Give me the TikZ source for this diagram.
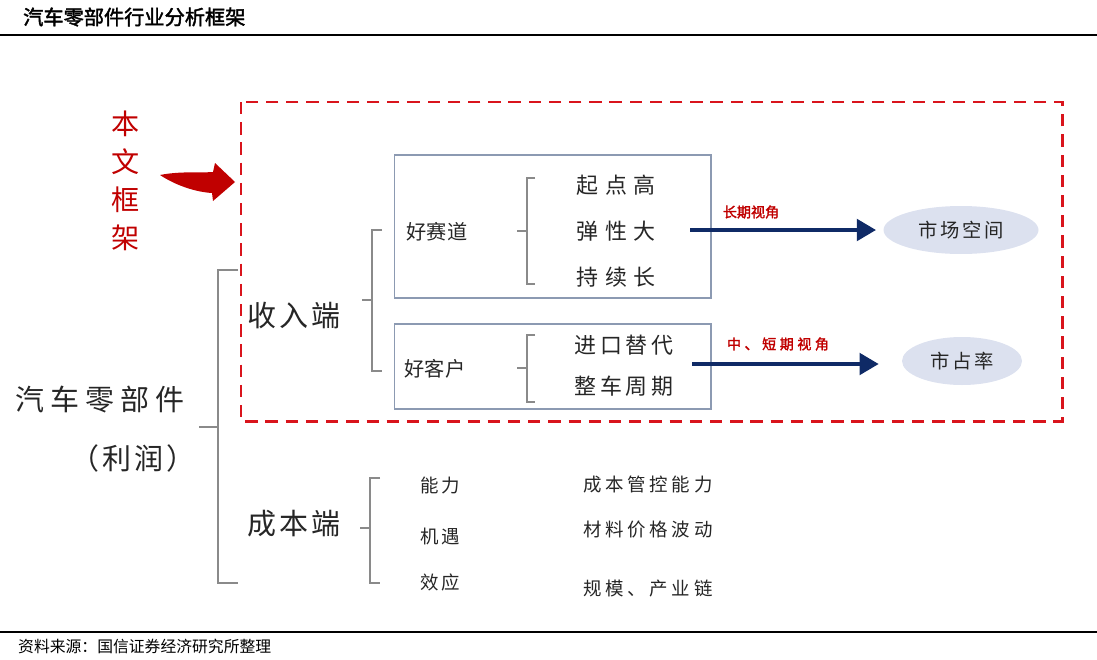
\documentclass[tikz,border=0pt]{standalone}
\usepackage{fontspec}
\setmainfont{Noto Sans CJK SC}[AutoFakeBold=2]
\usetikzlibrary{arrows.meta, positioning, shapes.geometric}
\definecolor{FrameRed}{HTML}{D9141C}
\definecolor{TagRed}{HTML}{C00000}
\definecolor{ArrowNavy}{HTML}{0F2A66}
\definecolor{EllFill}{HTML}{DCE1EF}
\definecolor{BoxLine}{HTML}{8C9AB2}
\definecolor{BrGray}{HTML}{8A8A8A}
\definecolor{InkGray}{HTML}{262626}

\tikzset{
  bigtext/.style={text=InkGray, font=\fontsize{16.5}{21.5}\selectfont\addfontfeature{LetterSpace=#1}},
  itemtext/.style={text=InkGray, font=\fontsize{12.5}{14}\selectfont\addfontfeature{LetterSpace=#1}},
  costtext/.style={text=InkGray, font=\fontsize{10.5}{12}\selectfont\addfontfeature{LetterSpace=#1}},
  tagtext/.style={text=TagRed, font=\fontsize{8}{9}\selectfont\bfseries\addfontfeature{LetterSpace=#1}},
  bracket/.style={draw=BrGray, line width=0.6pt},
  subbox/.style={draw=BoxLine, line width=0.6pt, minimum width=6.34cm, inner sep=0pt},
  goal/.style={ellipse, fill=EllFill, minimum height=0.96cm, inner sep=0pt, text=InkGray,
    font=\fontsize{11}{12}\selectfont\addfontfeature{LetterSpace=14}},
  navyarrow/.style={draw=ArrowNavy, line width=2.8pt, -{Triangle[length=11pt,width=12pt]}},
}

\begin{document}
\begin{tikzpicture}[x=0.02cm, y=-0.02cm]
\useasboundingbox (0,0) rectangle (1097,659);

% header and footer
\node[anchor=west, text=black, font=\fontsize{11.5}{12}\selectfont\bfseries] (title) at (17,17) {汽车零部件行业分析框架};
\draw[line width=0.8pt] (0,35) -- (1097,35);
\draw[line width=0.8pt] (0,632) -- (1097,632);
\node[anchor=west, text=black, font=\fontsize{9}{10}\selectfont] (source) at (12,646) {资料来源：国信证券经济研究所整理};

% frame of this report
\draw[FrameRed, line width=1.7pt, dash pattern=on 7pt off 4.5pt] (241,102) rectangle (1062,421);
\node[text=TagRed, align=center, font=\fontsize{16}{21.5}\selectfont] (tag) at (126,181) {本\\文\\框\\架};
\fill[TagRed] (160,175) .. controls (180,171) and (200,173) .. (213,172)
  -- (215,163) -- (235,182) -- (213,201) -- (212,193)
  .. controls (195,192) and (175,185) .. (160,175) -- cycle;

% root
\node[bigtext=20] (root) at (100,400) {汽车零部件};
\node[bigtext=10] (profit) at (133,458) {（利润）};
\draw[bracket] (238,270) -- (218,270) -- (218,583) -- (238,583);
\draw[bracket] (218,427) -- (199,427);

% revenue side
\node[bigtext=12] (revenue) at (294,316) {收入端};
\draw[bracket] (382,230) -- (372,230) -- (372,371) -- (382,371);
\draw[bracket] (372,300) -- (362,300);

\node[subbox, minimum height=2.86cm] (raceBox) at (552.5,226.5) {};
\node[subbox, minimum height=1.7cm] (clientBox) at (552.5,366.5) {};

\node[costtext=12, font=\fontsize{11.5}{12}\selectfont] (race) at (437,232) {好赛道};
\draw[bracket] (535,178) -- (527,178) -- (527,284) -- (535,284);
\draw[bracket] (527,231) -- (517,231);
\node[itemtext=30] (high) at (616,185) {起点高};
\node[itemtext=30] (elastic) at (616,231) {弹性大};
\node[itemtext=30] (long) at (616,277) {持续长};

\node[costtext=12, font=\fontsize{11.5}{12}\selectfont] (client) at (435,369) {好客户};
\draw[bracket] (535,335) -- (527,335) -- (527,402) -- (535,402);
\draw[bracket] (527,368) -- (517,368);
\node[itemtext=18] (import) at (624,345) {进口替代};
\node[itemtext=18] (cycle) at (624,386) {整车周期};

\node[goal, minimum width=3.1cm] (market) at (961,230) {市场空间};
\node[goal, minimum width=2.4cm] (share) at (962,361) {市占率};

\coordinate (raceOut) at (690,230);
\coordinate (clientOut) at (692,364);
\draw[navyarrow, shorten >=4pt] (raceOut) -- (raceOut -| market.west);
\draw[navyarrow, shorten >=13pt] (clientOut) -- (clientOut -| share.west);
\node[tagtext=0] (longView) at (751,212) {长期视角};
\node[tagtext=25] (shortView) at (778,344) {中、短期视角};

% cost side
\node[bigtext=12] (cost) at (294,524) {成本端};
\draw[bracket] (380,478) -- (370,478) -- (370,583) -- (380,583);
\draw[bracket] (370,528) -- (360,528);
\node[costtext=15] (ability) at (440,485) {能力};
\node[costtext=15] (chance) at (440,536) {机遇};
\node[costtext=15] (effect) at (440,582) {效应};
\node[costtext=20] (control) at (648,485) {成本管控能力};
\node[costtext=20] (material) at (648,530) {材料价格波动};
\node[costtext=20] (scale) at (648,589) {规模、产业链};
\end{tikzpicture}
\end{document}
